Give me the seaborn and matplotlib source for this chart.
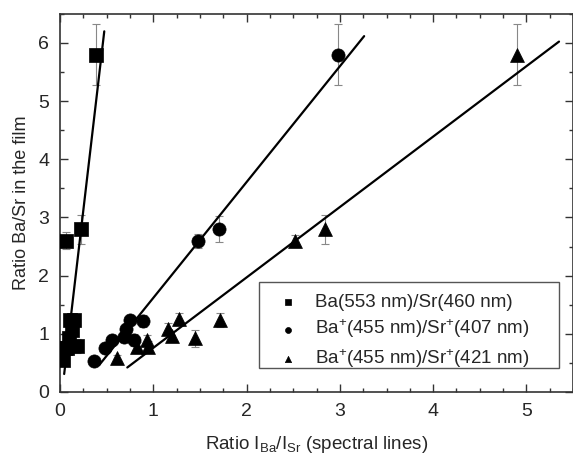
import numpy as np
import pandas as pd
import matplotlib
matplotlib.use("Agg")
import matplotlib.pyplot as plt
import seaborn as sns
from matplotlib.ticker import MultipleLocator
from matplotlib.patches import Rectangle

# Ba(553 nm)/Sr(460 nm)
sq_x = [0.03, 0.05, 0.07, 0.09, 0.11, 0.15, 0.125, 0.18, 0.06, 0.22, 0.38]
sq_y = [0.55, 0.75, 0.75, 0.92, 1.23, 1.23, 1.06, 0.79, 2.6, 2.8, 5.8]
sq_err = [0.08, 0.08, 0.08, 0.1, 0.1, 0.1, 0.1, 0.12, 0.15, 0.25, 0.52]

# Ba+(455 nm)/Sr+(407 nm)
ci_x = [0.36, 0.48, 0.56, 0.68, 0.71, 0.75, 0.89, 0.79, 1.48, 1.70, 2.98]
ci_y = [0.54, 0.76, 0.89, 0.94, 1.08, 1.23, 1.22, 0.89, 2.6, 2.8, 5.8]
ci_err = [0.05, 0.06, 0.06, 0.08, 0.08, 0.08, 0.1, 0.1, 0.12, 0.22, 0.52]

# Ba+(455 nm)/Sr+(421 nm)
tr_x = [0.61, 0.82, 0.93, 0.94, 1.16, 1.20, 1.27, 1.45, 1.71, 2.52, 2.84, 4.90]
tr_y = [0.58, 0.78, 0.90, 0.78, 1.08, 0.96, 1.25, 0.92, 1.24, 2.6, 2.8, 5.8]
tr_err = [0.05, 0.08, 0.08, 0.1, 0.1, 0.08, 0.1, 0.15, 0.12, 0.1, 0.25, 0.52]

# linear fits: x range, slope, intercept
fit_sq = ([0.043, 0.473], 13.7, -0.28)
fit_ci = ([0.42, 3.26], 1.99, -0.37)
fit_tr = ([0.72, 5.35], 1.21, -0.45)

labels = ["Ba(553 nm)/Sr(460 nm)",
          "Ba$^{+}$(455 nm)/Sr$^{+}$(407 nm)",
          "Ba$^{+}$(455 nm)/Sr$^{+}$(421 nm)"]

sns.set_style("ticks")
plt.rcParams['font.family'] = ['Liberation Sans', 'DejaVu Sans']
plt.rcParams['mathtext.fontset'] = 'custom'
plt.rcParams['mathtext.rm'] = 'Liberation Sans'
plt.rcParams['mathtext.it'] = 'Liberation Sans'

fig = plt.figure(figsize=(5.73, 4.55), dpi=100)
ax = fig.add_axes([0.105, 0.1385, 0.895, 0.831])

groups = [(sq_x, sq_y, sq_err, "s", fit_sq, 95),
          (ci_x, ci_y, ci_err, "o", fit_ci, 90),
          (tr_x, tr_y, tr_err, "^", fit_tr, 100)]

for (x, y, e, m, fit, size), lab in zip(groups, labels):
    ax.errorbar(x, y, yerr=e, fmt="none", ecolor="#888888", elinewidth=0.8,
                capsize=3, capthick=0.8, zorder=1)
    df = pd.DataFrame({"x": x, "y": y})
    sns.scatterplot(data=df, x="x", y="y", marker=m, s=size, color="black",
                    edgecolor="black", linewidth=0.5, ax=ax, label=lab, zorder=3)
    fx = np.array(fit[0])
    fit_df = pd.DataFrame({"x": fx, "y": fit[1] * fx + fit[2]})
    sns.lineplot(data=fit_df, x="x", y="y", color="black", linewidth=1.6, ax=ax, zorder=2)

ax.set_xlim(0, 5.5)
ax.set_ylim(0, 6.5)
ax.xaxis.set_major_locator(MultipleLocator(1))
ax.xaxis.set_minor_locator(MultipleLocator(0.25))
ax.yaxis.set_major_locator(MultipleLocator(1))
ax.yaxis.set_minor_locator(MultipleLocator(0.5))
ax.tick_params(which="both", direction="in", top=True, right=True, width=1, color="#333333")
ax.tick_params(which="major", length=6, labelsize=14, pad=8)
ax.tick_params(which="minor", length=3)
for s in ax.spines.values():
    s.set_linewidth(1.2)
    s.set_color("#333333")

ax.set_xlabel("Ratio I$_{Ba}$/I$_{Sr}$ (spectral lines)", fontsize=13.5, labelpad=10)
ax.set_ylabel("Ratio Ba/Sr in the film", fontsize=13, labelpad=6)

# legend without its own frame, box drawn separately to get the wide right margin
leg = ax.legend(loc="upper left", bbox_to_anchor=(0.426, 0.259), fontsize=13.5,
                markerscale=0.45, frameon=False, handlelength=1.0,
                handletextpad=0.95, borderpad=0, labelspacing=0.35, borderaxespad=0)
ax.add_patch(Rectangle((0.388, 0.0635), 0.585, 0.2275, transform=ax.transAxes,
                       fill=False, edgecolor="#555555", linewidth=1.0, zorder=4))

fig.savefig("out.png", dpi=100)
